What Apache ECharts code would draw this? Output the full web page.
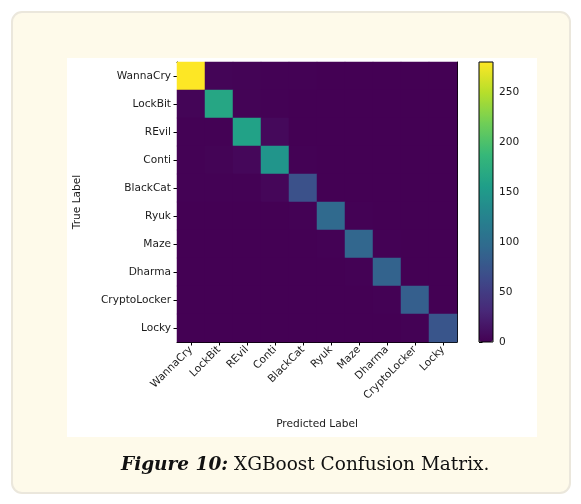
<!DOCTYPE html>
<html>
<head>
<meta charset="utf-8">
<script src="https://cdn.jsdelivr.net/npm/echarts@6/dist/echarts.min.js"></script>
<style>
  html, body { margin: 0; padding: 0; background: #ffffff; }
  #chart { width: 581px; height: 504px; }
</style>
</head>
<body>
<div id="chart"></div>
<script>
// Class names, in the same order on both axes
const classes = ['WannaCry', 'LockBit', 'REvil', 'Conti', 'BlackCat', 'Ryuk', 'Maze', 'Dharma', 'CryptoLocker', 'Locky'];

// Confusion matrix rows: true label; columns: predicted label
const rowWannaCry     = [280, 3, 2, 1, 1, 0, 0, 0, 0, 0];
const rowLockBit      = [3, 165, 2, 1, 0, 0, 0, 0, 0, 0];
const rowREvil        = [1, 1, 160, 6, 0, 0, 0, 0, 0, 0];
const rowConti        = [1, 2, 5, 146, 1, 0, 0, 0, 0, 0];
const rowBlackCat     = [1, 1, 1, 4, 70, 0, 0, 0, 0, 0];
const rowRyuk         = [0, 0, 0, 0, 1, 96, 1, 0, 0, 0];
const rowMaze         = [0, 0, 0, 0, 0, 1, 92, 1, 0, 0];
const rowDharma       = [0, 0, 0, 0, 0, 0, 1, 88, 0, 0];
const rowCryptoLocker = [0, 0, 0, 0, 0, 0, 0, 1, 84, 0];
const rowLocky        = [0, 0, 0, 0, 0, 0, 0, 0, 1, 74];

const matrix = [rowWannaCry, rowLockBit, rowREvil, rowConti, rowBlackCat,
                rowRyuk, rowMaze, rowDharma, rowCryptoLocker, rowLocky];

// Colour bar scale
const colorMin = 0;
const colorMax = 280;
const colorTickStep = 50;

// Caption
const captionLead = 'Figure 10:';
const captionText = ' XGBoost Confusion Matrix.';

const viridis = ['#440154', '#482878', '#3e4989', '#31688e', '#26828e',
                 '#1f9e89', '#35b779', '#6ece58', '#b5de2b', '#fde725'];

const cells = [];
matrix.forEach((row, r) => row.forEach((v, c) => cells.push([c, r, v])));

const axisFont = { fontFamily: 'DejaVu Sans', fontSize: 10.6, color: '#1a1a1a' };

const chart = echarts.init(document.getElementById('chart'), null, { renderer: 'canvas' });
chart.setOption({
  backgroundColor: '#ffffff',
  animation: false,
  graphic: [
    { type: 'rect', z: -10, shape: { x: 12, y: 12, width: 558, height: 481, r: 10 },
      style: { fill: '#fefaea', stroke: '#ebe7dc', lineWidth: 2 } },
    { type: 'rect', z: -9, shape: { x: 67, y: 58, width: 470, height: 379 },
      style: { fill: '#ffffff' } },
    { type: 'rect', z: 100, shape: { x: 479, y: 62, width: 14, height: 280 },
      style: { fill: 'none', stroke: '#000', lineWidth: 1 } },
    { type: 'text', z: 10, left: 121, top: 456,
      style: {
        text: '{b|' + captionLead + '}{n|' + captionText + '}',
        rich: {
          b: { fontFamily: 'DejaVu Serif', fontWeight: 'bold', fontStyle: 'italic', fontSize: 18.5, fill: '#111' },
          n: { fontFamily: 'DejaVu Serif', fontSize: 18.5, fill: '#111' }
        }
      } }
  ],
  grid: [
    { left: 177, top: 62, width: 280, height: 280 },
    { left: 479, top: 62, width: 14, height: 280 }
  ],
  xAxis: [
    { type: 'category', gridIndex: 0, data: classes, position: 'bottom',
      name: 'Predicted Label', nameLocation: 'middle', nameGap: 77,
      nameTextStyle: { fontFamily: 'DejaVu Sans', fontSize: 10.6, color: '#1a1a1a' },
      axisLine: { show: true, lineStyle: { color: '#000', width: 1 } },
      axisTick: { show: true, alignWithLabel: true, length: 3.5, lineStyle: { color: '#000' } },
      axisLabel: Object.assign({ rotate: 45, margin: 6, interval: 0 }, axisFont),
      splitLine: { show: false } },
    { type: 'category', gridIndex: 0, data: classes, position: 'top',
      axisLine: { show: true, lineStyle: { color: '#000', width: 1 } },
      axisTick: { show: false }, axisLabel: { show: false } },
    { type: 'value', gridIndex: 1, show: false, min: 0, max: 1 }
  ],
  yAxis: [
    { type: 'category', gridIndex: 0, data: classes, inverse: true, position: 'left',
      name: 'True Label', nameLocation: 'middle', nameGap: 94, nameRotate: 90,
      nameTextStyle: { fontFamily: 'DejaVu Sans', fontSize: 10.6, color: '#1a1a1a' },
      axisLine: { show: true, lineStyle: { color: '#000', width: 1 } },
      axisTick: { show: true, alignWithLabel: true, length: 3.5, lineStyle: { color: '#000' } },
      axisLabel: Object.assign({ margin: 6, interval: 0 }, axisFont),
      splitLine: { show: false } },
    { type: 'category', gridIndex: 0, data: classes, inverse: true, position: 'right',
      axisLine: { show: true, lineStyle: { color: '#000', width: 1 } },
      axisTick: { show: false }, axisLabel: { show: false } },
    { type: 'value', gridIndex: 1, position: 'right', min: colorMin, max: colorMax,
      interval: colorTickStep,
      axisLine: { show: false },
      axisTick: { show: true, length: 3.5, lineStyle: { color: '#000' } },
      axisLabel: Object.assign({ margin: 6, showMaxLabel: false }, axisFont),
      splitLine: { show: false } }
  ],
  visualMap: {
    type: 'continuous', seriesIndex: 0, min: colorMin, max: colorMax,
    orient: 'vertical', left: 479, top: 62, itemWidth: 14, itemHeight: 280,
    padding: 0, calculable: false, hoverLink: false, text: null, showLabel: false,
    inRange: { color: viridis }
  },
  series: [{
    type: 'heatmap', xAxisIndex: 0, yAxisIndex: 0, data: cells,
    itemStyle: { borderWidth: 0 },
    emphasis: { disabled: true },
    progressive: 0
  }]
});
</script>
</body>
</html>
